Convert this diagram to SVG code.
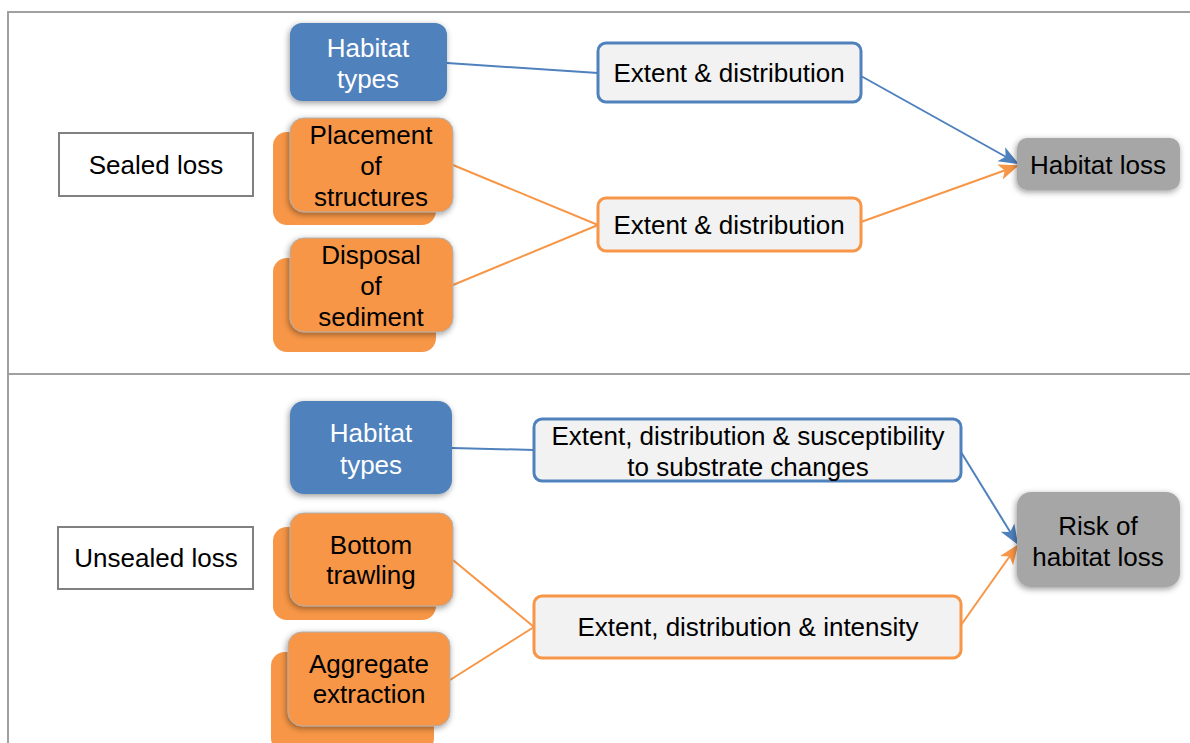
<svg xmlns="http://www.w3.org/2000/svg" width="1190" height="743" viewBox="0 0 1190 743">
<style>
text{font-family:"Liberation Sans",Arial,sans-serif;font-size:26px;fill:#000;text-anchor:middle}
.w{fill:#fff}
.blue{fill:#4F81BD}
.org{fill:#F79646}
.orgf{fill:#F79646;stroke:#B0B0B0;stroke-width:1}
.lab{fill:#fff;stroke:#808080;stroke-width:2}
.eb{fill:#F2F2F2;stroke:#4F81BD;stroke-width:3}
.eo{fill:#F2F2F2;stroke:#F79646;stroke-width:3}
.gray{fill:#A6A6A6}
.cb{stroke:#4F81BD;stroke-width:2;fill:none}
.co{stroke:#F79646;stroke-width:2;fill:none}
.frame{stroke:#A0A0A0;stroke-width:2;fill:none}
</style>
<defs>
<filter id="sh" x="-20%" y="-20%" width="140%" height="150%">
<feDropShadow dx="-1" dy="2" stdDeviation="3" flood-color="#000" flood-opacity="0.4"/>
</filter>
<marker id="ab2" viewBox="0 0 20 20" refX="18" refY="10" markerWidth="20" markerHeight="20" orient="auto" markerUnits="userSpaceOnUse">
<path d="M0,2 L20,10 L0,18 L5,10 z" fill="#4F81BD"/>
</marker>
<marker id="ao2" viewBox="0 0 20 20" refX="18" refY="10" markerWidth="20" markerHeight="20" orient="auto" markerUnits="userSpaceOnUse">
<path d="M0,2 L20,10 L0,18 L5,10 z" fill="#F79646"/>
</marker>
</defs>
<rect width="1190" height="743" fill="#fff"/>
<g id="frame">
<path class="frame" d="M8,743 V12 H1190"/>
<path class="frame" d="M8,374 H1190"/>
</g>
<g id="connectors">
<path class="cb" d="M447,63 L598,73"/>
<path class="cb" d="M861,76 L1017,163" marker-end="url(#ab2)"/>
<path class="co" d="M453,165 L598,225"/>
<path class="co" d="M453,285 L598,225"/>
<path class="co" d="M861,222 L1017,166" marker-end="url(#ao2)"/>
<path class="cb" d="M452,448 L534,450"/>
<path class="cb" d="M961,452 L1017,543" marker-end="url(#ab2)"/>
<path class="co" d="M453,560 L534,627"/>
<path class="co" d="M450,680 L534,627"/>
<path class="co" d="M961,625 L1017,546" marker-end="url(#ao2)"/>
</g>
<g id="sealed-loss">
<rect class="lab" x="59" y="133" width="194" height="63"/>
<text x="156" y="174">Sealed loss</text>
</g>
<g id="habitat-types-1">
<rect class="blue" x="290" y="23" width="157" height="78" rx="12" filter="url(#sh)"/>
<text class="w" x="368" y="57">Habitat</text>
<text class="w" x="368" y="88">types</text>
</g>
<g id="placement">
<rect class="org" x="273" y="132" width="163" height="93" rx="14"/>
<rect class="orgf" x="290" y="118" width="163" height="94" rx="14" filter="url(#sh)"/>
<text x="371" y="144">Placement</text>
<text x="371" y="175">of</text>
<text x="371" y="206">structures</text>
</g>
<g id="disposal">
<rect class="org" x="273" y="258" width="163" height="94" rx="14"/>
<rect class="orgf" x="290" y="238" width="163" height="94" rx="14" filter="url(#sh)"/>
<text x="371" y="264">Disposal</text>
<text x="371" y="295">of</text>
<text x="371" y="326">sediment</text>
</g>
<g id="extent-1">
<rect class="eb" x="598" y="43" width="263" height="59" rx="8"/>
<text x="729" y="82">Extent &amp; distribution</text>
</g>
<g id="extent-2">
<rect class="eo" x="598" y="198" width="263" height="53" rx="8"/>
<text x="729" y="234">Extent &amp; distribution</text>
</g>
<g id="habitat-loss">
<rect class="gray" x="1017" y="138" width="163" height="52" rx="10" filter="url(#sh)"/>
<text x="1098" y="174">Habitat loss</text>
</g>
<g id="unsealed-loss">
<rect class="lab" x="58" y="527" width="195" height="62"/>
<text x="156" y="567">Unsealed loss</text>
</g>
<g id="habitat-types-2">
<rect class="blue" x="290" y="401" width="162" height="93" rx="14" filter="url(#sh)"/>
<text class="w" x="371" y="442">Habitat</text>
<text class="w" x="371" y="474">types</text>
</g>
<g id="bottom-trawling">
<rect class="org" x="273" y="527" width="163" height="93" rx="14"/>
<rect class="orgf" x="290" y="513" width="163" height="93" rx="14" filter="url(#sh)"/>
<text x="371" y="554">Bottom</text>
<text x="371" y="584">trawling</text>
</g>
<g id="aggregate">
<rect class="org" x="271" y="652" width="163" height="100" rx="14"/>
<rect class="orgf" x="288" y="632" width="162" height="94" rx="14" filter="url(#sh)"/>
<text x="369" y="673">Aggregate</text>
<text x="369" y="703">extraction</text>
</g>
<g id="extent-3">
<rect class="eb" x="534" y="419" width="427" height="62" rx="8"/>
<text x="748" y="445">Extent, distribution &amp; susceptibility</text>
<text x="748" y="476">to substrate changes</text>
</g>
<g id="extent-4">
<rect class="eo" x="534" y="596" width="427" height="62" rx="8"/>
<text x="748" y="636">Extent, distribution &amp; intensity</text>
</g>
<g id="risk">
<rect class="gray" x="1017" y="492" width="163" height="95" rx="14" filter="url(#sh)"/>
<text x="1098" y="535">Risk of</text>
<text x="1098" y="566">habitat loss</text>
</g>
</svg>
